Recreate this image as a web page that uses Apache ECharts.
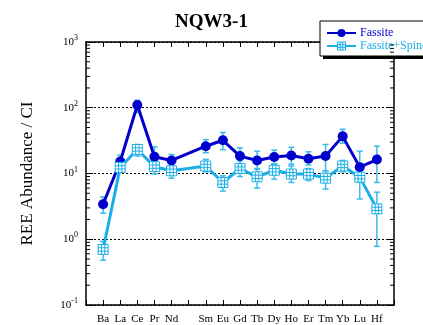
<!DOCTYPE html>
<html>
<head>
<meta charset="utf-8">
<script src="https://cdn.jsdelivr.net/npm/echarts@6/dist/echarts.min.js"></script>
<style>
  html, body { margin: 0; padding: 0; background: #fff; }
  #chart { width: 423px; height: 325px; }
</style>
</head>
<body>
<div id="chart"></div>
<script>
// axis slots, Pm left empty
const axisLabels = ["Ba", "La", "Ce", "Pr", "Nd", "", "Sm", "Eu", "Gd", "Tb", "Dy", "Ho", "Er", "Tm", "Yb", "Lu", "Hf"];
const elements = ["Ba", "La", "Ce", "Pr", "Nd", "Sm", "Eu", "Gd", "Tb", "Dy", "Ho", "Er", "Tm", "Yb", "Lu", "Hf"];

const fassite = [3.4, 15.2, 110, 18, 15.8, 26, 32, 18.4, 15.8, 17.8, 18.8, 16.8, 18.4, 36.7, 12.5, 16.3];
const fassiteHigh = [4.4, 19, 130, 25.4, 19.5, 32.7, 42, 24.6, 21.9, 22.6, 25, 21.4, 27.6, 47, 21.9, 26];
const fassiteLow = [2.5, 12.5, 84, 14, 13, 20.7, 23, 13.8, 11.6, 14, 13.8, 13.5, 11, 29, 7.5, 7.3];

const spinel = [0.7, 12.4, 23.2, 12.7, 11, 13, 7.3, 11.9, 8.9, 11.2, 9.8, 9.8, 8.5, 13, 8.8, 2.9];
const spinelHigh = [0.93, 14.5, 27.6, 16.4, 13.3, 16.4, 9.2, 15.5, 11.9, 13.8, 13, 11.9, 11, 15.8, 12, 5.2];
const spinelLow = [0.48, 10.5, 18.4, 9.8, 8.5, 10.6, 5.4, 9, 6, 8.2, 7.3, 7.8, 5.8, 10.6, 4.1, 0.78];

const blue = "#0000cd";
const cyan = "#1aaee8";
const errColor = "#3db9ec";
const serif = "Liberation Serif";

const xIdx = elements.map(e => axisLabels.indexOf(e));

// minor ticks 2..9 in each decade
let minorTicks = [];
for (let d = -1; d < 3; d++) {
  for (let k = 2; k <= 9; k++) minorTicks.push(k * Math.pow(10, d));
}

function errorBars(name, low, high) {
  return {
    type: "custom",
    name: name,
    z: 1,
    data: low.map((l, i) => [xIdx[i], l, high[i]]),
    renderItem: function (params, api) {
      const x = api.value(0);
      const lo = api.coord([x, api.value(1)]);
      const hi = api.coord([x, api.value(2)]);
      const w = 3;
      const st = { stroke: errColor, lineWidth: 1.5 };
      return {
        type: "group",
        children: [
          { type: "line", shape: { x1: lo[0], y1: lo[1], x2: hi[0], y2: hi[1] }, style: st },
          { type: "line", shape: { x1: lo[0] - w, y1: lo[1], x2: lo[0] + w, y2: lo[1] }, style: st },
          { type: "line", shape: { x1: hi[0] - w, y1: hi[1], x2: hi[0] + w, y2: hi[1] }, style: st },
        ],
      };
    },
  };
}

const squareSym = "path://M0,0H9V9H0Z M3,0V9 M6,0V9 M0,3H9 M0,6H9";

const chart = echarts.init(document.getElementById("chart"));
chart.setOption({
  animation: false,
  backgroundColor: "#fff",
  textStyle: { fontFamily: serif },
  title: {
    text: "NQW3-1",
    left: "center",
    top: 8,
    textStyle: { fontFamily: serif, fontWeight: "bold", fontSize: 19, color: "#000" },
  },
  graphic: [
    // legend drop shadow
    { type: "rect", left: 323, top: 24, z: 2, shape: { width: 110, height: 35 }, style: { fill: "#000" } },
  ],
  legend: {
    orient: "vertical",
    left: 320,
    top: 21,
    z: 5,
    itemWidth: 29,
    itemHeight: 10,
    itemGap: 1,
    padding: [6, 40, 4, 6],
    backgroundColor: "#fff",
    borderColor: "#000",
    borderWidth: 1,
    data: [
      { name: "Fassite", textStyle: { color: blue } },
      {
        name: "Fassite+Spinel",
        textStyle: { color: cyan },
        itemStyle: { color: "#fff", borderColor: cyan, borderWidth: 1 },
      },
    ],
    textStyle: { fontFamily: serif, fontSize: 12, padding: [0, 0, 0, -1] },
  },
  grid: { left: 86, right: 29, top: 42, bottom: 17 },
  xAxis: [
    {
      type: "value",
      min: -1,
      max: 17,
      interval: 1,
      axisLine: { onZero: false, lineStyle: { color: "#000", width: 1.5 } },
      axisTick: { inside: true, length: 5, lineStyle: { color: "#000" } },
      axisLabel: {
        formatter: v => axisLabels[v] || "",
        color: "#000",
        fontFamily: serif,
        fontSize: 11,
        margin: 9,
      },
      splitLine: { show: false },
    },
    {
      type: "value",
      position: "top",
      min: -1,
      max: 17,
      interval: 1,
      axisLine: { onZero: false, lineStyle: { color: "#000", width: 1.5 } },
      axisTick: { inside: true, length: 5, lineStyle: { color: "#000" } },
      axisLabel: { show: false },
      splitLine: { show: false },
    },
  ],
  yAxis: [
    {
      type: "log",
      logBase: 10,
      min: 0.1,
      max: 1000,
      name: "REE Abundance / CI",
      nameLocation: "middle",
      nameGap: 50,
      nameTextStyle: { fontFamily: serif, fontSize: 17, color: "#000" },
      axisLine: { onZero: false, lineStyle: { color: "#000", width: 1.5 } },
      axisTick: { inside: true, length: 7, lineStyle: { color: "#000" } },
      axisLabel: {
        color: "#000",
        margin: 8,
        formatter: v => "{b|10}{s|" + Math.round(Math.log10(v)) + "}",
        rich: {
          b: { fontFamily: serif, fontSize: 11, color: "#000" },
          s: { fontFamily: serif, fontSize: 8, color: "#000", verticalAlign: "bottom", padding: [0, 0, 8, 0] },
        },
      },
      splitLine: { show: true, lineStyle: { color: "#000", type: [2, 2], width: 1 } },
    },
    {
      type: "log",
      logBase: 10,
      min: 0.1,
      max: 1000,
      position: "right",
      axisLine: { onZero: false, lineStyle: { color: "#000", width: 1.5 } },
      axisTick: { inside: true, length: 7, lineStyle: { color: "#000" } },
      axisLabel: { show: false },
      splitLine: { show: false },
    },
  ],
  series: [
    {
      // minor ticks on both y axes
      type: "custom",
      name: "minor",
      z: 5,
      silent: true,
      data: minorTicks.map(v => [0, v]),
      renderItem: function (params, api) {
        const cs = params.coordSys;
        const y = api.coord([0, api.value(1)])[1];
        const st = { stroke: "#000", lineWidth: 1 };
        return {
          type: "group",
          children: [
            { type: "line", shape: { x1: cs.x, y1: y, x2: cs.x + 4, y2: y }, style: st },
            { type: "line", shape: { x1: cs.x + cs.width - 4, y1: y, x2: cs.x + cs.width, y2: y }, style: st },
          ],
        };
      },
    },
    errorBars("errF", fassiteLow, fassiteHigh),
    errorBars("errS", spinelLow, spinelHigh),
    {
      name: "Fassite",
      type: "line",
      z: 3,
      data: fassite.map((v, i) => [xIdx[i], v]),
      symbol: "circle",
      symbolSize: 10,
      lineStyle: { color: blue, width: 3 },
      itemStyle: { color: blue },
    },
    {
      name: "Fassite+Spinel",
      type: "line",
      z: 4,
      data: spinel.map((v, i) => [xIdx[i], v]),
      symbol: squareSym,
      symbolSize: 10,
      symbolKeepAspect: true,
      lineStyle: { color: cyan, width: 3 },
      itemStyle: { color: "#fff", borderColor: cyan, borderWidth: 1 },
    },
  ],
});
</script>
</body>
</html>
